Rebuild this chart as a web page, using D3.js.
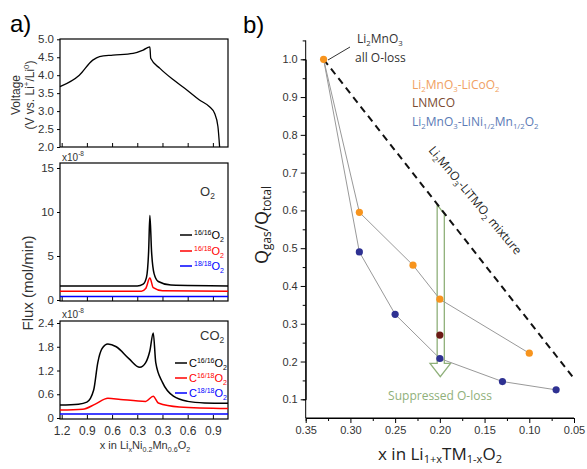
<!DOCTYPE html>
<html><head><meta charset="utf-8">
<script src="https://cdn.jsdelivr.net/npm/d3@7"></script>
<style>
body{margin:0;background:#fff;}
text{font-family:"Liberation Sans",Arial,sans-serif;}
.ob{font-family:"Open Sans",sans-serif;}
</style></head><body>
<svg id="fig" width="587" height="469"></svg>
<script>
// panel a: s = position along charge (x 1.2 -> 0.15) and discharge (0.15 -> 1.08)
const aTickPos = [0, 0.3, 0.6, 0.9, 1.2, 1.5, 1.8];
const aTickLab = ["1.2", "0.9", "0.6", "0.3", "0.3", "0.6", "0.9"];
const voltage = [[-0.02,3.68],[0.21,4.0],[0.37,4.42],[0.45,4.52],[0.61,4.56],[0.85,4.61],[0.97,4.7],[1.05,4.79],[1.06,4.47],[1.17,4.19],[1.33,3.87],[1.49,3.59],[1.64,3.31],[1.76,3.12],[1.82,2.94],[1.86,2.57],[1.88,2.0]];
const o2_1616 = [[-0.02,1.6],[0.9,1.6],[0.97,1.8],[1.01,2.6],[1.035,5.5],[1.05,9.6],[1.07,5.5],[1.1,3.0],[1.15,2.1],[1.3,1.7],[1.98,1.6]];
const o2_1618 = [[-0.02,1.0],[0.95,1.0],[1.0,1.3],[1.05,2.5],[1.09,1.4],[1.2,1.05],[1.98,1.0]];
const o2_1818 = [[-0.02,0.4],[1.98,0.4]];
const co2_1616 = [[-0.02,0.33],[0.2,0.35],[0.3,0.4],[0.38,0.7],[0.43,1.4],[0.48,1.75],[0.55,1.87],[0.65,1.8],[0.8,1.5],[0.93,1.28],[1.0,1.4],[1.05,1.7],[1.09,2.15],[1.12,1.4],[1.2,0.9],[1.33,0.55],[1.5,0.42],[1.7,0.38],[1.98,0.37]];
const co2_1618 = [[-0.02,0.2],[0.25,0.22],[0.4,0.35],[0.55,0.5],[0.7,0.47],[1.0,0.42],[1.09,0.55],[1.15,0.38],[1.4,0.28],[1.98,0.24]];
const co2_1818 = [[-0.02,0.1],[1.98,0.1]];
// panel b
const orangeSeries = [[0.33,1.0],[0.29,0.595],[0.23,0.455],[0.20,0.365],[0.10,0.222]];
const blueSeries = [[0.33,1.0],[0.29,0.49],[0.25,0.325],[0.20,0.208],[0.13,0.147],[0.07,0.125]];
const lnmco = [[0.20,0.27]];
const mixtureLine = [[0.33,1.0],[0.05,0.155]];
const bYTicks = [0.1,0.2,0.3,0.4,0.5,0.6,0.7,0.8,0.9,1.0];
const bXTicks = [0.35,0.30,0.25,0.20,0.15,0.10,0.05];

const svg = d3.select("#fig");
const sx = d3.scaleLinear().domain([-0.02, 1.98]).range([60, 228]);
const line = (x, y) => d3.line().x(d => x(d[0])).y(d => y(d[1])).curve(d3.curveMonotoneX);

function panel(y, top, bottom, ticks, fmt, showX) {
  svg.append("rect").attr("x", 60).attr("y", top).attr("width", 168).attr("height", bottom - top)
    .attr("fill", "none").attr("stroke", "#000").attr("stroke-width", 1.2);
  const gy = svg.append("g").attr("transform", "translate(60,0)")
    .call(d3.axisLeft(y).tickValues(ticks).tickFormat(fmt).tickSize(3));
  gy.select(".domain").remove();
  gy.selectAll("text").attr("font-size", 11.5).attr("fill", "#333");
  const gx = svg.append("g").attr("transform", `translate(0,${bottom})`)
    .call(d3.axisBottom(sx).tickValues(aTickPos).tickSize(-4).tickFormat((d, i) => aTickLab[i]));
  gx.select(".domain").remove();
  gx.selectAll("text").attr("font-size", 12).attr("fill", "#333").attr("dy", "1.1em").style("display", showX ? null : "none");
}

// voltage
const yV = d3.scaleLinear().domain([2, 5]).range([147, 39.3]);
panel(yV, 39, 147, [2,2.5,3,3.5,4,4.5,5], d3.format(".1f"), false);
svg.append("path").datum(voltage).attr("d", line(sx, yV)).attr("fill", "none").attr("stroke", "#000").attr("stroke-width", 1.3);

// O2
const yO = d3.scaleLinear().domain([0, 15]).range([300, 168]);
panel(yO, 163, 301, [0,5,10,15], d3.format("d"), false);
[[o2_1616,"#000"],[o2_1618,"#f00"],[o2_1818,"#00f"]].forEach(([d,c]) =>
  svg.append("path").datum(d).attr("d", line(sx, yO)).attr("fill","none").attr("stroke",c).attr("stroke-width",1.5));

// CO2
const yC = d3.scaleLinear().domain([0, 2.4]).range([418, 323]);
panel(yC, 321, 419, [0,0.6,1.2,1.8,2.4], d => d === 0 ? "0" : d3.format(".1f")(d), true);
[[co2_1616,"#000"],[co2_1618,"#f00"],[co2_1818,"#00f"]].forEach(([d,c]) =>
  svg.append("path").datum(d).attr("d", line(sx, yC)).attr("fill","none").attr("stroke",c).attr("stroke-width",1.5));

// legends panel a
function legend(x, ys, pre, cols) {
  const names = ["16/16", "16/18", "18/18"];
  ys.forEach((yy, i) => {
    svg.append("line").attr("x1", x).attr("x2", x + 12).attr("y1", yy).attr("y2", yy).attr("stroke", cols[i]).attr("stroke-width", 1.5);
    const t = svg.append("text").attr("x", x + 14).attr("y", yy + 4).attr("font-size", 11).attr("fill", cols[i]);
    if (pre) t.append("tspan").text(pre);
    t.append("tspan").attr("font-size", 7).attr("dy", -4).text(names[i]);
    t.append("tspan").attr("dy", 4).text("O");
    t.append("tspan").attr("font-size", 7).attr("dy", 3).text("2");
  });
}
const cols = ["#000", "#f00", "#00f"];
legend(180, [235, 251, 266], "", cols);
legend(175, [363, 378, 393], "C", cols);
function chem(x, y, parts, size, color, anchor, cls) {
  const t = svg.append("text").attr("x", x).attr("y", y).attr("font-size", size).attr("fill", color).attr("text-anchor", anchor || "start");
  if (cls) t.attr("class", cls);
  let cur = 0;
  parts.forEach(p => {
    const off = p[1] === "sub" ? 3 : p[1] === "sup" ? -5 : 0;
    t.append("tspan").attr("dy", off - cur).attr("font-size", p[1] ? size * 0.65 : size).text(p[0]);
    cur = off;
  });
  return t;
}
chem(200, 196, [["O"],["2","sub"]], 13, "#333");
chem(200, 340, [["CO"],["2","sub"]], 13, "#333");
chem(62, 161, [["x10"],["-8","sup"]], 10, "#333");
chem(62, 318, [["x10"],["-8","sup"]], 10, "#333");
chem(145, 449, [["x in Li"],["x","sub"],["Ni"],["0.2","sub"],["Mn"],["0.6","sub"],["O"],["2","sub"]], 11, "#333", "middle");
svg.append("text").attr("transform", "translate(20,95) rotate(-90)").attr("text-anchor", "middle").attr("font-size", 12).attr("fill", "#333").text("Voltage");
chem(0, 0, [["(V vs. Li"],["+","sup"],["/Li"],["0","sup"],[")"]], 12, "#333", "middle").attr("transform", "translate(34,95) rotate(-90)");
svg.append("text").attr("transform", "translate(33,283) rotate(-90)").attr("text-anchor", "middle").attr("font-size", 15).attr("fill", "#333").text("Flux (mol/min)");
svg.append("text").attr("x", 10).attr("y", 32).attr("font-size", 24).text("a)");
svg.append("text").attr("x", 243).attr("y", 33).attr("font-size", 24).text("b)");

// panel b
const bx = d3.scaleLinear().domain([0.35, 0.05]).range([305.7, 574]);
const by = d3.scaleLinear().domain([0.1, 1.0]).range([399.3, 59.3]);
const gbx = svg.append("g").attr("transform", "translate(0,418)")
  .call(d3.axisBottom(bx).tickValues(bXTicks).tickFormat(d3.format(".2f")).tickSize(5));
gbx.selectAll("text").attr("font-size", 11).attr("fill", "#333");
gbx.append("g").call(d3.axisBottom(bx).tickValues(d3.range(0.325, 0.05, -0.05)).tickFormat("").tickSize(3));
gbx.select(".domain").attr("d", `M305.7,0H574`);
const gby = svg.append("g").attr("transform", "translate(305.7,0)")
  .call(d3.axisLeft(by).tickValues(bYTicks).tickFormat(d3.format(".1f")).tickSize(5));
gby.selectAll("text").attr("font-size", 11).attr("fill", "#333");
gby.append("g").call(d3.axisLeft(by).tickValues(d3.range(0.15, 1.06, 0.1)).tickFormat("").tickSize(3));
gby.select(".domain").attr("d", `M0,${by(1.05)}V418`);

// arrow
const ay = v => by(v), ax = v => bx(v);
svg.append("path").attr("d", `M${ax(0.203)},${ay(0.615)} L${ax(0.195)},${ay(0.59)} L${ax(0.195)},${ay(0.195)} L${ax(0.188)},${ay(0.195)} L${ax(0.1995)},${ay(0.16)} L${ax(0.211)},${ay(0.195)} L${ax(0.203)},${ay(0.195)} Z`)
  .attr("fill", "none").attr("stroke", "#8fb07a").attr("stroke-width", 1.3);

svg.append("path").datum(mixtureLine).attr("d", line(bx, by)).attr("stroke", "#111").attr("stroke-width", 2).attr("stroke-dasharray", "7 5").attr("fill", "none");
[orangeSeries, blueSeries].forEach(d =>
  svg.append("path").datum(d).attr("d", d3.line().x(p => bx(p[0])).y(p => by(p[1]))).attr("fill", "none").attr("stroke", "#999").attr("stroke-width", 1));
[[orangeSeries, "#f7941d"], [blueSeries.slice(1), "#2e3192"], [lnmco, "#6b1a14"]].forEach(([d, c]) =>
  svg.selectAll(null).data(d).join("circle").attr("cx", p => bx(p[0])).attr("cy", p => by(p[1])).attr("r", 3.6).attr("fill", c));

svg.append("line").attr("x1", 328).attr("y1", 60).attr("x2", 350).attr("y2", 47).attr("stroke", "#333");
chem(357, 43, [["Li"],["2","sub"],["MnO"],["3","sub"]], 12, "#333", "start", "ob");
svg.append("text").attr("class", "ob").attr("x", 355).attr("y", 62).attr("font-size", 12).attr("fill", "#333").text("all O-loss");
chem(412, 89, [["Li"],["2","sub"],["MnO"],["3","sub"],["-LiCoO"],["2","sub"]], 12, "#f0a060", "start", "ob");
svg.append("text").attr("class", "ob").attr("x", 412).attr("y", 107).attr("font-size", 12).attr("fill", "#7a4a30").text("LNMCO");
chem(412, 126, [["Li"],["2","sub"],["MnO"],["3","sub"],["-LiNi"],["1/2","sub"],["Mn"],["1/2","sub"],["O"],["2","sub"]], 12, "#5a7ab5", "start", "ob");
chem(0, 0, [["Li"],["2","sub"],["MnO"],["3","sub"],["-LiTMO"],["2","sub"],[" mixture"]], 12, "#222", "middle", "ob").attr("transform", "translate(472,203) rotate(50)");
svg.append("text").attr("class", "ob").attr("x", 440).attr("y", 400).attr("text-anchor", "middle").attr("font-size", 12).attr("fill", "#8fb07a").text("Suppressed O-loss");
chem(0, 0, [["Q"],["gas","sub"],["/Q"],["total","sub"]], 18, "#222", "middle", "ob").attr("transform", "translate(268,225) rotate(-90)");
chem(440, 460, [["x in Li"],["1+x","sub"],["TM"],["1-x","sub"],["O"],["2","sub"]], 17, "#222", "middle", "ob");
</script></body></html>
